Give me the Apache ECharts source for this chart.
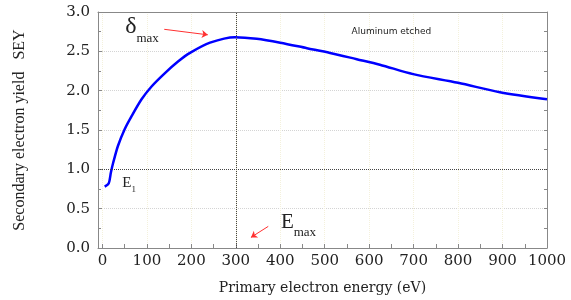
<!DOCTYPE html>
<html>
<head>
    <meta charset="utf-8">
    <title>SEY aluminum etched</title>
    <script src="https://cdn.jsdelivr.net/npm/echarts@6/dist/echarts.min.js"></script>
    <style>
        html, body { margin: 0; padding: 0; background: #fff; }
    </style>
</head>
<body>
    <div id="chart" style="width: 571px;height:300px;"></div>
    <script type="text/javascript">
// 曲线数据
var energy = [5, 14, 19, 24, 35, 50, 65, 88, 110, 140, 170, 197, 242, 298, 347, 400, 460, 512, 572, 624, 699, 800, 894, 1000];
var sey = [0.78, 0.82, 0.96, 1.08, 1.30, 1.51, 1.67, 1.89, 2.05, 2.22, 2.37, 2.48, 2.61, 2.68, 2.66, 2.61, 2.54, 2.48, 2.40, 2.33, 2.21, 2.10, 1.98, 1.89];

// 标注位置 (数据坐标)
var emaxX = 300;
var e1Y = 1.0;
var deltaArrow = [[139, 2.78], [237, 2.71]];
var emaxArrow = [[373, 0.275], [334, 0.135]];

var points = energy.map(function (e, i) { return [e, sey[i]]; });

var serif = 'DejaVu Serif';
var textColor = '#222';
var red = '#ff3030';

var chart = echarts.init(document.getElementById('chart'));

var option = {
    animation: false,
    grid: {left: 98, right: 24, top: 12, bottom: 51},
    xAxis: [
        {
            type: 'value', min: -10, max: 1000, splitNumber: 10,
            name: 'Primary electron energy (eV)', nameLocation: 'middle', nameGap: 33,
            nameTextStyle: {fontFamily: serif, fontSize: 14, color: textColor},
            axisLine: {onZero: false, lineStyle: {color: '#888'}},
            axisTick: {inside: true, length: 4, lineStyle: {color: '#888'}},
            minorTick: {show: true, splitNumber: 2, length: 4, lineStyle: {color: '#888'}},
            axisLabel: {
                fontFamily: serif, fontSize: 15, color: textColor, margin: 6,
                formatter: function (v) { return v % 100 === 0 ? String(v) : ''; }
            },
            splitLine: {show: true, lineStyle: {color: '#f4f1dc', type: 'dotted'}}
        },
        {
            type: 'value', position: 'top', min: -10, max: 1000,
            axisLine: {show: true, onZero: false, lineStyle: {color: '#888'}},
            axisTick: {show: false}, axisLabel: {show: false}, splitLine: {show: false}
        }
    ],
    yAxis: [
        {
            type: 'value', min: 0, max: 3, interval: 0.5,
            name: 'Secondary electron yield   SEY', nameLocation: 'middle', nameGap: 70,
            nameTextStyle: {fontFamily: 'Liberation Serif', fontSize: 16, color: textColor},
            axisLine: {show: true, onZero: false, lineStyle: {color: '#888'}},
            axisTick: {inside: true, length: 4, lineStyle: {color: '#888'}},
            minorTick: {show: true, splitNumber: 2, length: 3, lineStyle: {color: '#888'}},
            axisLabel: {
                fontFamily: serif, fontSize: 15, color: textColor, margin: 8,
                formatter: function (v) { return v.toFixed(1); }
            },
            splitLine: {show: true, lineStyle: {color: '#d4d4d4', type: 'dotted'}}
        },
        {
            type: 'value', position: 'right', min: 0, max: 3, interval: 0.25,
            axisLine: {show: true, onZero: false, lineStyle: {color: '#888'}},
            axisTick: {show: true, inside: true, length: 3, lineStyle: {color: '#888'}},
            axisLabel: {show: false}, splitLine: {show: false}
        }
    ],
    series: [
        {
            type: 'line',
            data: points,
            smooth: 0.3,
            showSymbol: false,
            lineStyle: {color: '#0000ff', width: 2.5},
            itemStyle: {color: '#0000ff'},
            markLine: {
                silent: true,
                animation: false,
                symbol: ['none', 'none'],
                label: {show: false},
                data: [
                    {xAxis: emaxX, lineStyle: {color: '#444', type: 'dotted', width: 1}},
                    {yAxis: e1Y, lineStyle: {color: '#444', type: 'dotted', width: 1}},
                    [
                        {coord: deltaArrow[0], symbol: 'none', lineStyle: {color: red, type: 'solid', width: 1}},
                        {coord: deltaArrow[1], symbol: 'arrow', symbolSize: 6}
                    ],
                    [
                        {coord: emaxArrow[0], symbol: 'none', lineStyle: {color: red, type: 'solid', width: 1}},
                        {coord: emaxArrow[1], symbol: 'arrow', symbolSize: 6}
                    ]
                ]
            },
            markPoint: {
                silent: true,
                symbol: 'circle',
                symbolSize: 0,
                data: [
                    {
                        coord: [89, 2.77],
                        label: {
                            show: true, position: 'inside', formatter: '{d|δ}{s|max}',
                            rich: {
                                d: {fontFamily: 'Liberation Serif', fontSize: 24, color: textColor, padding: [0, 0, 6, 0]},
                                s: {fontFamily: 'Liberation Serif', fontSize: 13, color: textColor, verticalAlign: 'bottom'}
                            }
                        }
                    },
                    {
                        coord: [60, 0.80],
                        label: {
                            show: true, position: 'inside', formatter: '{d|E}{s|1}',
                            rich: {
                                d: {fontFamily: 'Liberation Serif', fontSize: 15, color: textColor, padding: [0, 0, 4, 0]},
                                s: {fontFamily: 'Liberation Serif', fontSize: 9, color: textColor, verticalAlign: 'bottom'}
                            }
                        }
                    },
                    {
                        coord: [441, 0.28],
                        label: {
                            show: true, position: 'inside', formatter: '{d|E}{s|max}',
                            rich: {
                                d: {fontFamily: 'Liberation Serif', fontSize: 21, color: textColor, padding: [0, 0, 6, 0]},
                                s: {fontFamily: 'Liberation Serif', fontSize: 13, color: textColor, verticalAlign: 'bottom'}
                            }
                        }
                    },
                    {
                        coord: [650, 2.75],
                        label: {
                            show: true, position: 'inside', formatter: 'Aluminum etched',
                            fontFamily: 'DejaVu Sans', fontSize: 9, color: textColor
                        }
                    }
                ]
            }
        }
    ]
};

chart.setOption(option);
    </script>
</body>
</html>
